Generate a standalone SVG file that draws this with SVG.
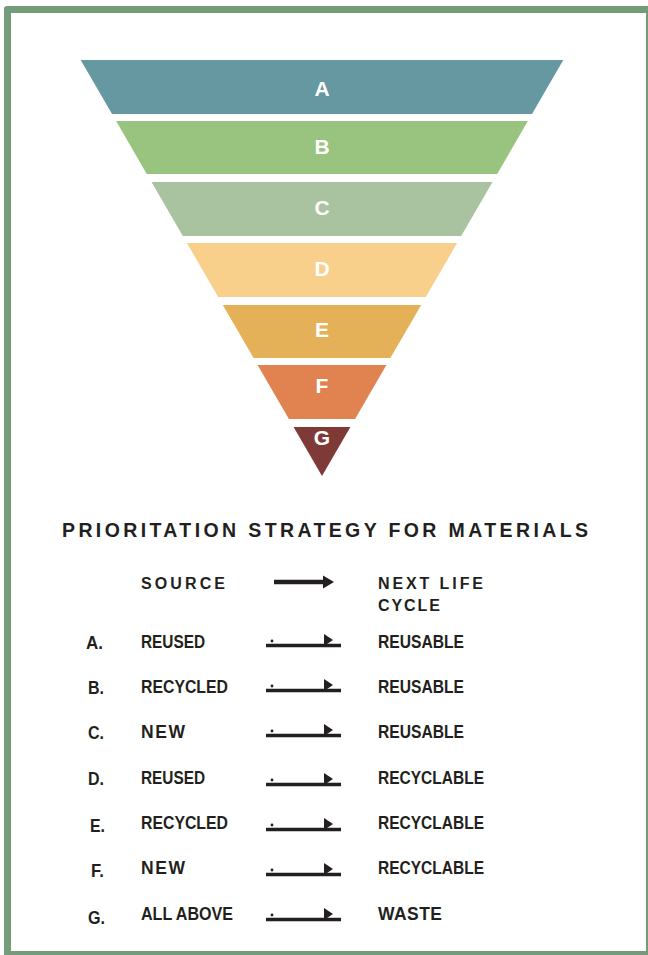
<svg xmlns="http://www.w3.org/2000/svg" width="648" height="955" viewBox="0 0 648 955">
<style>
.lbl{font-family:"Liberation Sans",Arial,sans-serif;font-weight:bold;font-size:21px;fill:#ffffff;text-anchor:middle}
.t{font-family:"Liberation Sans",Arial,sans-serif;font-weight:bold;font-size:17.5px;fill:#231f20}
.h{font-family:"Liberation Sans",Arial,sans-serif;font-weight:bold;font-size:16px;fill:#231f20}
.title{font-family:"Liberation Sans",Arial,sans-serif;font-weight:bold;font-size:19.5px;fill:#231f20}
.ln{stroke:#231f20;stroke-width:3.5;fill:none}
.hd{fill:#231f20}
</style>
<rect x="0" y="0" width="648" height="955" fill="#ffffff"/>
<path d="M4,9 Q4,6 7,6 L648,6 L648,955 L4,955 Z M11,13 L11,951 L646,951 L646,13 Z" fill="#749c79" fill-rule="evenodd"/>
<g id="layer-A"><polygon points="80.7,60 563.3,60 532,114 112,114" fill="#6598a0"/><text class="lbl" x="322" y="96">A</text></g>
<g id="layer-B"><polygon points="116.1,121 527.9,121 497.2,174 146.8,174" fill="#99c47f"/><text class="lbl" x="322" y="154">B</text></g>
<g id="layer-C"><polygon points="151.5,182 492.5,182 461.2,236 182.8,236" fill="#a9c2a0"/><text class="lbl" x="322" y="215">C</text></g>
<g id="layer-D"><polygon points="186.9,243 457.1,243 425.8,297 218.2,297" fill="#f8d08c"/><text class="lbl" x="322" y="276">D</text></g>
<g id="layer-E"><polygon points="222.8,305 421.2,305 390.4,358 253.6,358" fill="#e5b158"/><text class="lbl" x="322" y="337">E</text></g>
<g id="layer-F"><polygon points="257.6,365 386.4,365 355.1,419 288.9,419" fill="#e08350"/><text class="lbl" x="322" y="393">F</text></g>
<g id="layer-G"><polygon points="293.6,427 350.4,427 322,476" fill="#7f3a37"/><text class="lbl" x="322" y="445">G</text></g>
<text class="title" x="62" y="537" textLength="526" lengthAdjust="spacing">PRIORITATION STRATEGY FOR MATERIALS</text>
<g id="header">
<text class="h" x="141" y="589" textLength="84" lengthAdjust="spacing">SOURCE</text>
<text class="h" x="378" y="589" textLength="105" lengthAdjust="spacing">NEXT LIFE</text>
<text class="h" x="378" y="611" textLength="62" lengthAdjust="spacing">CYCLE</text>
</g>
<g id="connectors">
<line x1="274" y1="582" x2="326" y2="582" stroke="#231f20" stroke-width="4.5"/>
<polygon class="hd" points="323,575.5 334,582 323,588.5"/>
<g id="c-A"><line class="ln" x1="266" y1="645.5" x2="341" y2="645.5"/><polygon class="hd" points="324,634 333,640 324,646"/><circle class="hd" cx="272" cy="641" r="1.4"/></g>
<g id="c-B"><line class="ln" x1="266" y1="690.5" x2="341" y2="690.5"/><polygon class="hd" points="324,679 333,685 324,691"/><circle class="hd" cx="272" cy="686" r="1.4"/></g>
<g id="c-C"><line class="ln" x1="266" y1="735.5" x2="341" y2="735.5"/><polygon class="hd" points="324,724 333,730 324,736"/><circle class="hd" cx="272" cy="731" r="1.4"/></g>
<g id="c-D"><line class="ln" x1="266" y1="784.5" x2="341" y2="784.5"/><polygon class="hd" points="324,773 333,779 324,785"/><circle class="hd" cx="272" cy="780" r="1.4"/></g>
<g id="c-E"><line class="ln" x1="266" y1="829.5" x2="341" y2="829.5"/><polygon class="hd" points="324,818 333,824 324,830"/><circle class="hd" cx="272" cy="825" r="1.4"/></g>
<g id="c-F"><line class="ln" x1="266" y1="874.5" x2="341" y2="874.5"/><polygon class="hd" points="324,863 333,869 324,875"/><circle class="hd" cx="272" cy="870" r="1.4"/></g>
<g id="c-G"><line class="ln" x1="266" y1="919.5" x2="341" y2="919.5"/><polygon class="hd" points="324,908 333,914 324,920"/><circle class="hd" cx="272" cy="915" r="1.4"/></g>
</g>
<g id="row-A"><text class="t" x="86" y="649" textLength="17" lengthAdjust="spacingAndGlyphs">A.</text><text class="t" x="141" y="648" textLength="64" lengthAdjust="spacingAndGlyphs">REUSED</text><text class="t" x="378" y="648" textLength="86" lengthAdjust="spacingAndGlyphs">REUSABLE</text></g>
<g id="row-B"><text class="t" x="88" y="694" textLength="16" lengthAdjust="spacingAndGlyphs">B.</text><text class="t" x="141" y="693" textLength="87" lengthAdjust="spacingAndGlyphs">RECYCLED</text><text class="t" x="378" y="693" textLength="86" lengthAdjust="spacingAndGlyphs">REUSABLE</text></g>
<g id="row-C"><text class="t" x="88" y="739" textLength="16" lengthAdjust="spacingAndGlyphs">C.</text><text class="t" x="141" y="738" textLength="44" lengthAdjust="spacing">NEW</text><text class="t" x="378" y="738" textLength="86" lengthAdjust="spacingAndGlyphs">REUSABLE</text></g>
<g id="row-D"><text class="t" x="88" y="785" textLength="16" lengthAdjust="spacingAndGlyphs">D.</text><text class="t" x="141" y="784" textLength="64" lengthAdjust="spacingAndGlyphs">REUSED</text><text class="t" x="378" y="784" textLength="106" lengthAdjust="spacingAndGlyphs">RECYCLABLE</text></g>
<g id="row-E"><text class="t" x="90" y="832" textLength="15" lengthAdjust="spacingAndGlyphs">E.</text><text class="t" x="141" y="829" textLength="87" lengthAdjust="spacingAndGlyphs">RECYCLED</text><text class="t" x="378" y="829" textLength="106" lengthAdjust="spacingAndGlyphs">RECYCLABLE</text></g>
<g id="row-F"><text class="t" x="91" y="877" textLength="13" lengthAdjust="spacingAndGlyphs">F.</text><text class="t" x="141" y="874" textLength="44" lengthAdjust="spacing">NEW</text><text class="t" x="378" y="874" textLength="106" lengthAdjust="spacingAndGlyphs">RECYCLABLE</text></g>
<g id="row-G"><text class="t" x="88" y="924" textLength="17" lengthAdjust="spacingAndGlyphs">G.</text><text class="t" x="141" y="920" textLength="92" lengthAdjust="spacingAndGlyphs">ALL ABOVE</text><text class="t" x="378" y="920" textLength="64" lengthAdjust="spacing">WASTE</text></g>
</svg>
